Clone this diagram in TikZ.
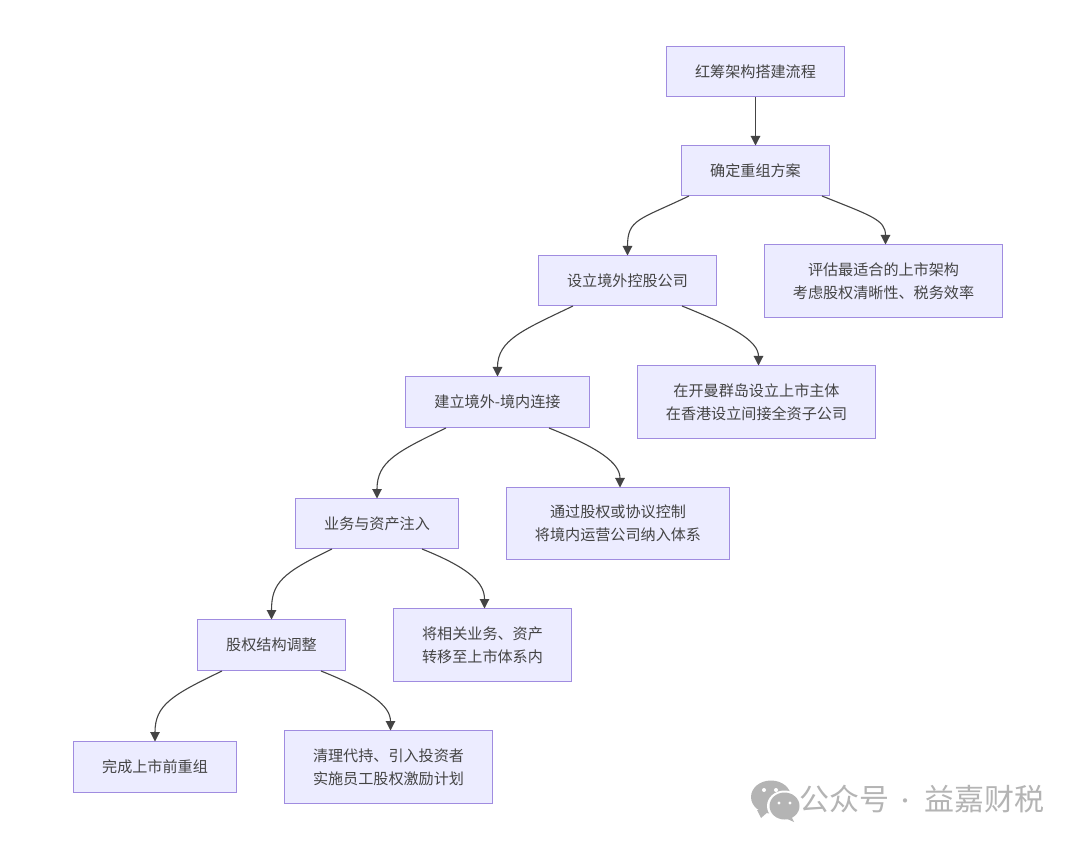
\documentclass[tikz,border=0pt]{standalone}
\usepackage{fontspec}
\setmainfont{Noto Sans CJK SC}
\usetikzlibrary{arrows.meta,calc}
\definecolor{boxfill}{HTML}{ECECFF}
\definecolor{boxline}{HTML}{A08CE0}
\definecolor{ink}{HTML}{444444}
\definecolor{edgeink}{HTML}{444444}
\definecolor{wmgray}{HTML}{B4B4B4}
\tikzset{
  x=1pt,y=-1pt,
  flowbox/.style n args={4}{draw=boxline,fill=boxfill,line width=1.4pt,text=ink,rectangle,
    minimum width=#3 pt-1.4pt,minimum height=#4 pt-1.4pt,inner sep=0pt,align=center,
    font=\fontsize{15.1}{23}\selectfont,anchor=center,at={(#1,#2)}},
  flow/.style={draw=edgeink,line width=1.1pt,-{Triangle[length=9.5pt,width=9.5pt]},shorten >=-0.5pt},
}
\begin{document}
\begin{tikzpicture}
\useasboundingbox (0,0) rectangle (1080,842);
\fill[white] (0,0) rectangle (1080,842);
\node[flowbox={755.5}{71.5}{179}{51}] (t) {红筹架构搭建流程};
\node[flowbox={755.5}{170.5}{149}{51}] (a) {确定重组方案};
\node[flowbox={627.5}{280.5}{179}{51}] (b) {设立境外控股公司};
\node[flowbox={883.5}{281}{239}{74}] (b2) {评估最适合的上市架构\\考虑股权清晰性、税务效率};
\node[flowbox={497.5}{402}{185}{52}] (c) {建立境外-境内连接};
\node[flowbox={756.5}{402}{239}{74}] (c2) {在开曼群岛设立上市主体\\在香港设立间接全资子公司};
\node[flowbox={377}{523.5}{164}{51}] (d) {业务与资产注入};
\node[flowbox={618}{523.5}{224}{73}] (d2) {通过股权或协议控制\\将境内运营公司纳入体系};
\node[flowbox={271.5}{645}{149}{52}] (e) {股权结构调整};
\node[flowbox={482.5}{645}{179}{74}] (e2) {将相关业务、资产\\转移至上市体系内};
\node[flowbox={155}{767}{164}{52}] (f) {完成上市前重组};
\node[flowbox={388.5}{767}{209}{74}] (f2) {清理代持、引入投资者\\实施员工股权激励计划};

\draw[flow] (t.south) -- (a.north);
\foreach \p/\l/\r/\dl/\dr in {a/b/b2/8/8, b/c/c2/35/35, c/d/d2/41/41, d/e/e2/37/37, e/f/f2/25/25}{
  \draw[flow] ([xshift=\dl]\p.south west) .. controls +(-50,24) and +(0,-36) .. (\l.north);
  \draw[flow] ([xshift=-\dr]\p.south east) .. controls +(50,20) and +(0,-24) .. ([xshift=2]\r.north);
}
% watermark
\fill[wmgray] (771,797) ellipse [x radius=20,y radius=16.5];
\fill[wmgray] (757,810) -- (761,818) -- (769,811) -- cycle;
\fill[white] (784.5,806) ellipse [x radius=17.5,y radius=15.5];
\fill[wmgray] (784.5,806) ellipse [x radius=15,y radius=13.5];
\fill[wmgray] (791,816) -- (794,822) -- (785,818) -- cycle;
\fill[white] (764,790) circle (2) (776,790) circle (2) (779,803) circle (1.7) (790,803) circle (1.7);
\node[text=wmgray,font=\fontsize{30}{30}\selectfont,anchor=west,inner sep=0pt] (wm) at (799,799.5) {公众号};
\node[text=wmgray,font=\fontsize{20}{20}\selectfont,anchor=center,inner sep=0pt] (dot) at (905,804) {·};
\node[text=wmgray,font=\fontsize{30}{30}\selectfont,anchor=west,inner sep=0pt] (wm2) at (924,799.5) {益嘉财税};
\end{tikzpicture}
\end{document}
